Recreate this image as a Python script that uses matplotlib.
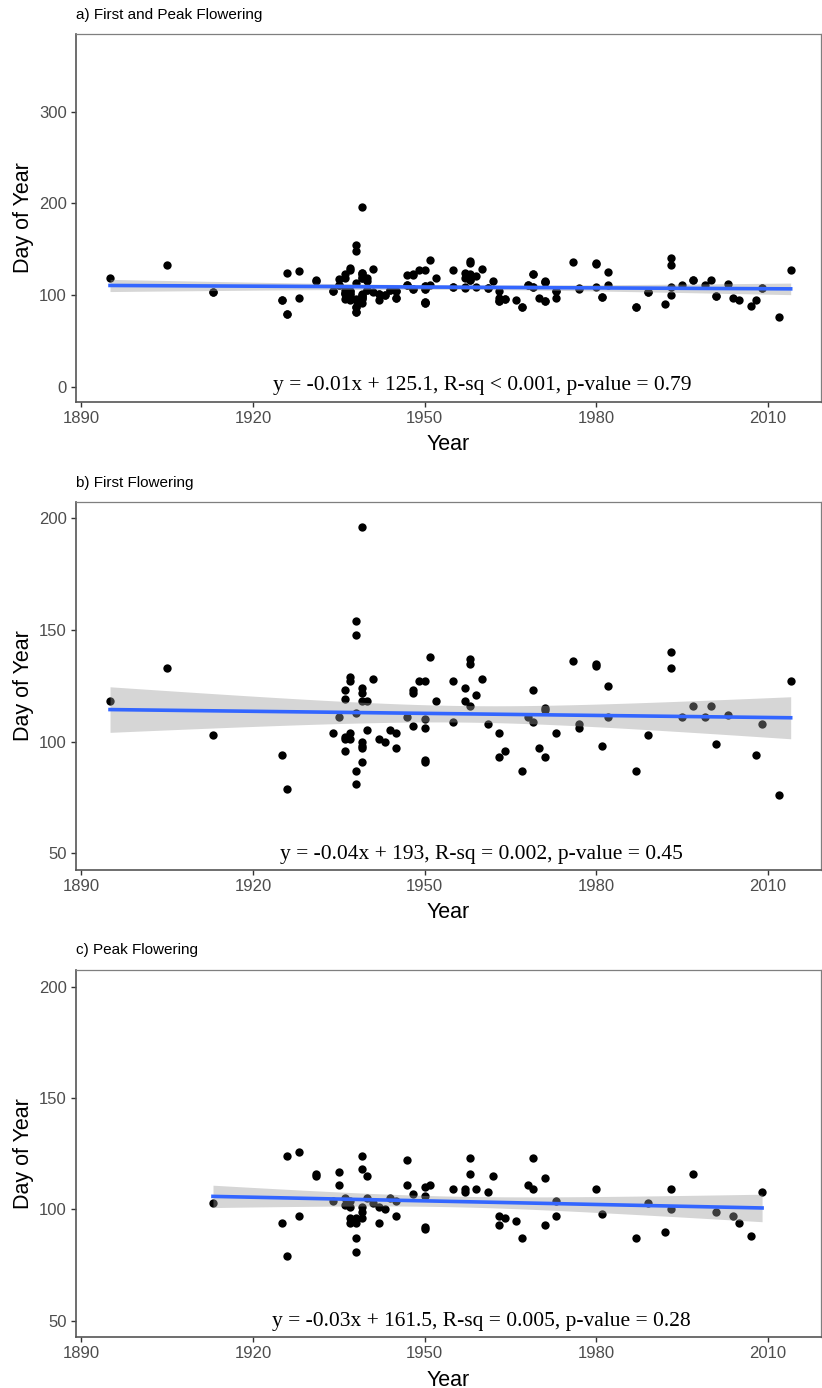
import numpy as np
import matplotlib
matplotlib.use("Agg")
import matplotlib.pyplot as plt

# first flowering records (year, day of year)
first_years = [1895, 1905, 1913, 1925, 1926, 1934, 1935,
               1936, 1936, 1936, 1936, 1936,
               1937, 1937, 1937, 1937,
               1938, 1938, 1938, 1938, 1938,
               1939, 1939, 1939, 1939, 1939, 1939, 1939, 1939,
               1940, 1940, 1941, 1942, 1943, 1944, 1945, 1945, 1947,
               1948, 1948, 1948, 1949,
               1950, 1950, 1950, 1950, 1950,
               1951, 1952, 1955, 1955, 1957, 1957,
               1958, 1958, 1958, 1959, 1960, 1961, 1963, 1963, 1964,
               1967, 1968, 1969, 1969, 1970, 1971, 1971, 1971, 1973,
               1976, 1977, 1977, 1980, 1980, 1981, 1982, 1982, 1987,
               1989, 1993, 1993, 1995, 1997, 1999, 2000, 2001, 2003,
               2008, 2009, 2012, 2014]
first_days = [118, 133, 103, 94, 79, 104, 111,
              123, 119, 102, 101, 96,
              129, 127, 104, 101,
              154, 148, 113, 87, 81,
              196, 124, 122, 118, 100, 98, 97, 91,
              118, 105, 128, 101, 100, 105, 104, 97, 111,
              123, 122, 107, 127,
              127, 110, 106, 92, 91,
              138, 118, 127, 109, 124, 118,
              137, 135, 116, 121, 128, 108, 104, 93, 96,
              87, 111, 123, 109, 97, 115, 114, 93, 104,
              136, 108, 106, 135, 134, 98, 125, 111, 87,
              103, 140, 133, 111, 116, 111, 116, 99, 112,
              94, 108, 76, 127]

# peak flowering records
peak_years = [1913, 1925, 1926, 1926, 1928, 1928, 1931, 1931, 1934,
              1935, 1935, 1936, 1936,
              1937, 1937, 1937, 1937,
              1938, 1938, 1938, 1938,
              1939, 1939, 1939, 1939, 1939,
              1940, 1940, 1941, 1942, 1942, 1943, 1944, 1945, 1945,
              1947, 1947, 1948, 1950, 1950, 1950, 1950, 1951, 1955,
              1957, 1957, 1958, 1958, 1959, 1961, 1962, 1963, 1963,
              1964, 1966, 1967, 1968, 1969, 1969, 1971, 1971, 1973,
              1973, 1980, 1981, 1987, 1989, 1992, 1993, 1993, 1997,
              2001, 2004, 2005, 2007, 2009]
peak_days = [103, 94, 124, 79, 126, 97, 116, 115, 104,
             117, 111, 105, 102,
             104, 101, 96, 94,
             96, 94, 87, 81,
             124, 118, 101, 99, 96,
             115, 105, 103, 101, 94, 100, 105, 104, 97,
             122, 111, 107, 110, 106, 92, 91, 111, 109,
             109, 108, 123, 116, 109, 108, 115, 97, 93,
             96, 95, 87, 111, 123, 109, 114, 93, 104,
             97, 109, 98, 87, 103, 90, 109, 100, 116,
             99, 97, 94, 88, 108]

titles = ["a) First and Peak Flowering", "b) First Flowering", "c) Peak Flowering"]
stat_labels = ["y = -0.01x + 125.1, R-sq < 0.001, p-value = 0.79",
               "y = -0.04x + 193, R-sq = 0.002, p-value = 0.45",
               "y = -0.03x + 161.5, R-sq = 0.005, p-value = 0.28"]
y_ticks = [[0, 100, 200, 300], [50, 100, 150, 200], [50, 100, 150, 200]]
y_limits = [(-16.5, 384.5), (42.5, 207.5), (42.5, 207.5)]
x_ticks = [1890, 1920, 1950, 1980, 2010]

plt.rcParams['font.family'] = ['Liberation Sans', 'DejaVu Sans']

W, H = 822, 1388
fig = plt.figure(figsize=(W / 100, H / 100), dpi=100)

panels = [
    (first_years + peak_years, first_days + peak_days, 34.3, 401.7, 1.5),
    (first_years, first_days, 501.7, 870.0, 49.3),
    (peak_years, peak_days, 970.3, 1337.3, 49.5),
]

for i, (xs, ys, top, bottom, text_y) in enumerate(panels):
    ax = fig.add_axes([76 / W, 1 - bottom / H, (821 - 76) / W, (bottom - top) / H])
    xs = np.array(xs, dtype=float)
    ys = np.array(ys, dtype=float)

    ax.scatter(xs, ys, s=36, color='black', linewidths=0, zorder=2)

    # linear fit with 95% confidence band (like geom_smooth(method='lm'))
    slope, intercept = np.polyfit(xs, ys, 1)
    n = len(xs)
    resid = ys - (slope * xs + intercept)
    s_err = np.sqrt(np.sum(resid ** 2) / (n - 2))
    grid = np.linspace(xs.min(), xs.max(), 100)
    fit = slope * grid + intercept
    se = s_err * np.sqrt(1 / n + (grid - xs.mean()) ** 2 / np.sum((xs - xs.mean()) ** 2))
    ax.fill_between(grid, fit - 1.98 * se, fit + 1.98 * se, color='#999999', alpha=0.4,
                    linewidth=0, zorder=3)
    ax.plot(grid, fit, color='#3366FF', linewidth=2.6, zorder=4)

    ax.text(1960, text_y, stat_labels[i], ha='center', va='center', fontsize=15.5,
            family=['Liberation Serif', 'DejaVu Serif'], color='black', zorder=5)

    ax.set_xlim(1889.05, 2019.3)
    ax.set_ylim(*y_limits[i])
    ax.set_xticks(x_ticks)
    ax.set_yticks(y_ticks[i])
    ax.tick_params(axis='both', labelsize=12, labelcolor='#4D4D4D', color='#333333',
                   length=3.5, width=1.0, pad=3)

    for side in ['top', 'right']:
        ax.spines[side].set_color('#7F7F7F')
        ax.spines[side].set_linewidth(0.9)
    for side in ['left', 'bottom']:
        ax.spines[side].set_color('#555555')
        ax.spines[side].set_linewidth(1.2)

    ax.set_xlabel('Year', fontsize=15.5, labelpad=6)
    ax.set_ylabel('Day of Year', fontsize=15.5, labelpad=4)

    title_y = [15, 483.3, 950][i]
    fig.text(76 / W, 1 - title_y / H, titles[i], ha='left', va='center', fontsize=11,
             color='black')

fig.savefig('out.png', dpi=100, facecolor='white')
